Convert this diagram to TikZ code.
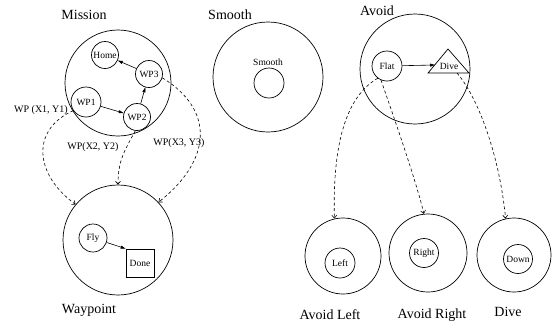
\documentclass[tikz,border=0pt]{standalone}
\usepackage{fontspec}
\setmainfont{Liberation Serif}
\usetikzlibrary{arrows.meta}
\begin{document}
\begin{tikzpicture}[x=1pt,y=-1pt,
  big/.style={circle,draw,line width=0.7pt,inner sep=0pt},
  sm/.style={circle,draw,line width=0.7pt,inner sep=0pt,font=\fontsize{9.5}{11}\selectfont},
  title/.style={font=\fontsize{14}{16}\selectfont,inner sep=0pt},
  lab/.style={font=\fontsize{10}{12}\selectfont,inner sep=0pt},
  intext/.style={font=\fontsize{9.5}{11}\selectfont,inner sep=0pt},
  sarrow/.style={line width=0.6pt,-{Triangle[length=5pt,width=3pt]}},
  darrow/.style={line width=0.6pt,dash pattern=on 3pt off 2.5pt,-{Straight Barb[length=3pt,width=5pt]}}
]
\useasboundingbox (0,0) rectangle (552,322);

% Mission
\node[title] (missiont) at (84,15) {Mission};
\node[big,minimum size=106pt] (mission) at (118,83) {};
\node[sm,minimum size=27pt] (home) at (105,55) {Home};
\node[sm,minimum size=27pt] (wp3) at (149,74) {WP3};
\node[sm,minimum size=30pt] (wp1) at (86,102) {WP1};
\node[sm,minimum size=27pt] (wp2) at (137,117) {WP2};
\draw[sarrow] (wp1) -- (wp2);
\draw[sarrow] (wp2) -- (wp3);
\draw[sarrow] (wp3) -- (home);

% Waypoint
\node[big,minimum size=110pt] (waypoint) at (118,240) {};
\node[sm,minimum size=28pt] (fly) at (93,238) {Fly};
\node[draw,line width=0.7pt,minimum size=28pt,inner sep=0pt,font=\fontsize{9.5}{11}\selectfont] (done) at (140,263) {Done};
\draw[sarrow] (fly) -- (done.north west);
\node[title] (waypointt) at (89,310) {Waypoint};

% Mission -> Waypoint connectors
\draw[darrow] (wp1.214) .. controls (30,130) and (35,175) .. (waypoint.140);
\draw[darrow] (wp2.263) .. controls (125,150) and (118,160) .. (waypoint.90);
\draw[darrow] (wp3.344) .. controls (215,110) and (212,160) .. (waypoint.43);
\node[lab] (l1) at (41,110) {WP (X1, Y1)};
\node[lab] (l2) at (93,147) {WP(X2, Y2)};
\node[lab] (l3) at (179,143) {WP(X3, Y3)};

% Smooth
\node[title] (smootht) at (230,15) {Smooth};
\node[big,minimum size=110pt] (smooth) at (268,77) {};
\node[big,minimum size=30pt] (smoothin) at (269,83) {};
\node[intext] (smoothlab) at (268,62) {Smooth};

% Avoid
\node[title] (avoidt) at (377,11) {Avoid};
\node[big,minimum size=110pt] (avoid) at (415,69) {};
\node[sm,minimum size=30pt] (flat) at (387,66) {Flat};
\coordinate (dA) at (448,49);
\coordinate (dL) at (428,73);
\coordinate (dR) at (469,73);
\draw[line width=0.7pt] (dA) -- (dL) -- (dR) -- cycle;
\node[intext] (divet) at (449,66) {Dive};
\coordinate (dedge) at (435,65);
\coordinate (dbase) at (457,73);
\draw[sarrow] (flat) -- (dedge);

% Bottom circles
\node[big,minimum size=76pt] (avoidleft) at (343,256) {};
\node[sm,minimum size=30pt] (left) at (340,263) {Left};
\node[big,minimum size=78pt] (avoidright) at (428,253) {};
\node[sm,minimum size=29pt] (right) at (424,253) {Right};
\node[big,minimum size=74pt] (divec) at (514,255) {};
\node[sm,minimum size=29pt] (down) at (518,259) {Down};
\node[title] (avoidleftt) at (330,315) {Avoid Left};
\node[title] (avoidrightt) at (432,315) {Avoid Right};
\node[title] (divett) at (508,312) {Dive};

% Avoid connectors
\draw[darrow] (flat.233) .. controls (340,100) and (333,160) .. (avoidleft.103);
\draw[darrow] (flat.247) .. controls (392,112) and (416,180) .. (avoidright.96);
\draw[darrow] (dbase) .. controls (480,100) and (500,160) .. (divec.103);
\end{tikzpicture}
\end{document}
